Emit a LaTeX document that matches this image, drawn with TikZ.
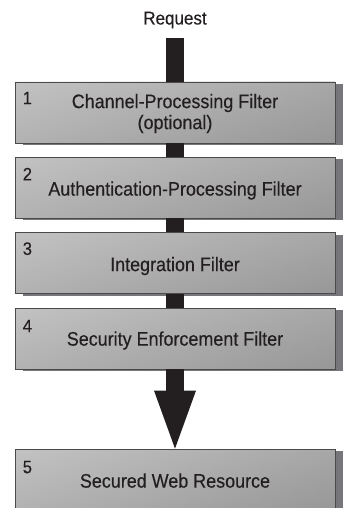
\documentclass[tikz,border=0pt]{standalone}
\usepackage{fontspec}
\setmainfont{Liberation Sans}[FakeStretch=0.92, FakeBold=0.3]
\usetikzlibrary{arrows.meta,calc,shadows}
\definecolor{ink}{HTML}{231F20}
\definecolor{shadowc}{HTML}{77777B}
\definecolor{edgec}{HTML}{4A4A4A}
\begin{document}
\begin{tikzpicture}[x=1pt,y=-1pt,
  filterbox/.style={draw=edgec, line width=0.8pt, minimum width=320pt, minimum height=61pt,
    inner sep=0pt, top color=gray!10, bottom color=gray!36,
    drop shadow={shadow xshift=8pt, shadow yshift=-2pt, fill=shadowc, opacity=1},
    path picture={\fill[left color=white, right color=gray!70, opacity=0.3]
      (path picture bounding box.south west) rectangle (path picture bounding box.north east);}},
  lbl/.style={text=ink, inner sep=0pt, font=\fontsize{19.5}{22}\selectfont},
  numlbl/.style={text=ink, inner sep=0pt, font=\fontsize{18}{20}\selectfont},
  bar/.style={draw=ink, line width=18pt}]
\useasboundingbox (0,0) rectangle (344,508);
\clip (0,0) rectangle (344,508);
% boxes
\node[filterbox] (b1) at (175,112.5) {};
\node[filterbox] (b2) at (175,187.5) {};
\node[filterbox] (b3) at (175,263) {};
\node[filterbox] (b4) at (175,338.5) {};
\node[filterbox] (b5) at (175,479.5) {};
% labels
\node[lbl, font=\fontsize{18.5}{20}\selectfont, anchor=base] (req) at (175,24.5) {Request};
\node[lbl, anchor=base] (t1a) at ($(b1.north)+(0,26.5)$) {Channel-Processing Filter};
\node[lbl, anchor=base] (t1b) at ($(b1.north)+(0,47.5)$) {(optional)};
\node[lbl, anchor=base] (t2) at ($(b2.north)+(0,39)$) {Authentication-Processing Filter};
\node[lbl, anchor=base] (t3) at ($(b3.north)+(0,39)$) {Integration Filter};
\node[lbl, anchor=base] (t4) at ($(b4.north)+(0,38)$) {Security Enforcement Filter};
\node[lbl, anchor=base] (t5) at ($(b5.north)+(0,39)$) {Secured Web Resource};
\node[numlbl, anchor=north west] (n1) at ($(b1.north west)+(8,10)$) {1};
\node[numlbl, anchor=north west] (n2) at ($(b2.north west)+(8,11)$) {2};
\node[numlbl, anchor=north west] (n3) at ($(b3.north west)+(8,10)$) {3};
\node[numlbl, anchor=north west] (n4) at ($(b4.north west)+(8,12)$) {4};
\node[numlbl, anchor=north west] (n5) at ($(b5.north west)+(8,12)$) {5};
% connectors
\draw[bar, shorten <=9pt] (req.south) -- (b1.north);
\draw[bar] (b1.south) -- (b2.north);
\draw[bar] (b2.south) -- (b3.north);
\draw[bar] (b3.south) -- (b4.north);
\draw[bar, -{Triangle[width=42pt,length=58pt,line width=0pt]}] (b4.south) -- (b5.north);
\end{tikzpicture}
\end{document}
